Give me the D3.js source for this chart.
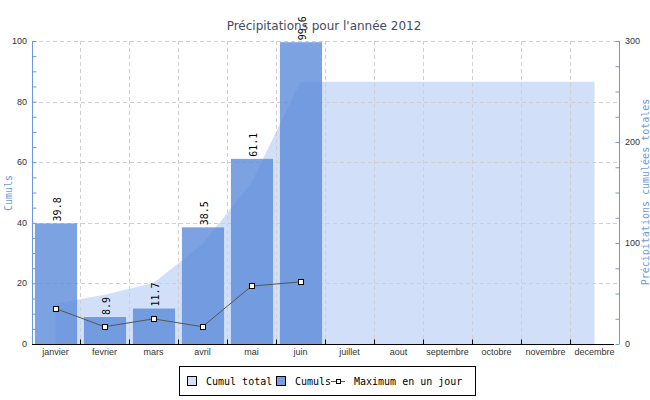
<!DOCTYPE html>
<html><head><meta charset="utf-8">
<script src="https://cdn.jsdelivr.net/npm/d3@7"></script>
<style>body{margin:0;background:#fff}svg{display:block}</style>
</head><body>
<svg id="c" width="650" height="400"></svg>
<script>
const months = ["janvier","fevrier","mars","avril","mai","juin","juillet","aout","septembre","octobre","novembre","decembre"];
const cumuls = [39.8, 8.9, 11.7, 38.5, 61.1, 99.6];
const cumulTotal = [39.8, 48.7, 60.4, 98.9, 160.0, 259.6, 259.6, 259.6, 259.6, 259.6, 259.6, 259.6];
const maxJour = [11.7, 5.7, 8.3, 5.7, 19.1, 20.5];
const leftTicks = [0, 20, 40, 60, 80, 100];
const rightTicks = [0, 100, 200, 300];
const title = "Précipitations pour l'année 2012";
const legendLabels = ["Cumul total", "Cumuls", "Maximum en un jour"];

const svg = d3.select("#c");
const L = 32, R = 619, T = 41, B = 344;
const x = d3.scaleBand().domain(months).range([31, 619]).padding(0);
const yL = d3.scaleLinear().domain([0, 100]).range([B, T]);
const yR = d3.scaleLinear().domain([0, 300]).range([B, T]);
const bw = x.bandwidth();
const cx = m => x(m) + bw / 2;
const mono = "'DejaVu Sans Mono', monospace";
const sans = "'Liberation Sans', Arial, sans-serif";
const blue = "#6f98dc";

// area
const area = d3.area().x((d, i) => cx(months[i])).y0(B).y1(d => yR(d));
svg.append("path").datum(cumulTotal).attr("d", area).attr("fill", "#d2dff8");

// grid
const g = svg.append("g").attr("stroke", "#cfcfcf").attr("stroke-dasharray", "4,3").attr("stroke-width", 1);
leftTicks.filter(v => v > 0).forEach(v => {
  g.append("line").attr("x1", L).attr("x2", R).attr("y1", Math.round(yL(v)) + 0.5).attr("y2", Math.round(yL(v)) + 0.5);
});
months.forEach((m, i) => {
  if (i === 0) return;
  const xx = Math.round(x(m)) + 0.5;
  g.append("line").attr("x1", xx).attr("x2", xx).attr("y1", T).attr("y2", B);
});

// bars
svg.append("g").selectAll("rect").data(cumuls).join("rect")
  .attr("x", (d, i) => x(months[i]) + bw * 0.08)
  .attr("width", bw * 0.86)
  .attr("y", d => yL(d))
  .attr("height", d => B - yL(d))
  .attr("fill", "#5b8bd9").attr("fill-opacity", 0.8);

// bar labels
svg.append("g").selectAll("text").data(cumuls).join("text")
  .attr("transform", (d, i) => `translate(${cx(months[i]) + 5},${yL(d) - 2}) rotate(-90)`)
  .attr("font-family", mono).attr("font-size", 10).attr("fill", "#000")
  .text(d => d.toFixed(1));

// line
const line = d3.line().x((d, i) => cx(months[i])).y(d => yL(d));
svg.append("path").datum(maxJour).attr("d", line).attr("fill", "none").attr("stroke", "#555").attr("stroke-width", 1);
svg.append("g").selectAll("rect").data(maxJour).join("rect")
  .attr("x", (d, i) => Math.round(cx(months[i])) - 2.5).attr("y", d => Math.round(yL(d)) - 2.5)
  .attr("width", 5).attr("height", 5).attr("fill", "#fff").attr("stroke", "#000").attr("stroke-width", 1);

// left axis
const axL = svg.append("g").attr("transform", `translate(${L + 0.5},0)`);
axL.call(d3.axisRight(yL).tickValues(d3.range(0, 101, 5)).tickSize(4).tickFormat(""));
axL.select(".domain").attr("d", `M0,${T}V${B + 1}`).attr("stroke", blue);
axL.selectAll(".tick line").attr("stroke", blue);
svg.append("g").selectAll("text").data(leftTicks).join("text")
  .attr("x", 27).attr("y", d => yL(d) + 3).attr("text-anchor", "end")
  .attr("font-family", sans).attr("font-size", 9).attr("fill", "#333").text(d => d);

// right axis
const axR = svg.append("g").attr("transform", `translate(${R + 0.5},0)`);
axR.call(d3.axisLeft(yR).tickValues(d3.range(0, 301, 25)).tickSize(4).tickFormat(""));
axR.select(".domain").attr("d", `M0,${T}V${B}`).attr("stroke", blue);
axR.selectAll(".tick line").attr("stroke", blue);
svg.append("g").selectAll("text").data(rightTicks).join("text")
  .attr("x", 625).attr("y", d => yR(d) + 3).attr("text-anchor", "start")
  .attr("font-family", sans).attr("font-size", 9).attr("fill", "#333").text(d => d);

// x axis
const axX = svg.append("g").attr("transform", `translate(0,${B + 0.5})`);
axX.append("line").attr("x1", L).attr("x2", 614).attr("stroke", "#000");
axX.selectAll("line.t").data(months.slice(1)).join("line").attr("class", "t")
  .attr("x1", m => Math.round(x(m)) + 0.5).attr("x2", m => Math.round(x(m)) + 0.5)
  .attr("y1", -5).attr("y2", 0).attr("stroke", "#000");
svg.append("g").selectAll("text").data(months).join("text")
  .attr("x", m => cx(m)).attr("y", 355).attr("text-anchor", "middle")
  .attr("font-family", sans).attr("font-size", 9).attr("fill", "#333").text(m => m);

// axis titles
svg.append("text").attr("transform", "translate(12,193) rotate(-90)").attr("text-anchor", "middle")
  .attr("font-family", mono).attr("font-size", 10).attr("fill", blue).text("Cumuls");
svg.append("text").attr("transform", "translate(649,192) rotate(-90)").attr("text-anchor", "middle")
  .attr("font-family", mono).attr("font-size", 10).attr("fill", blue).text("Précipitations cumulées totales");

// title
svg.append("text").attr("x", 324).attr("y", 30).attr("text-anchor", "middle")
  .attr("font-family", "'DejaVu Sans', sans-serif").attr("font-size", 12).attr("fill", "#434a63").text(title);

// legend
const lg = svg.append("g");
lg.append("rect").attr("x", 179.5).attr("y", 366.5).attr("width", 296).attr("height", 29).attr("fill", "#fff").attr("stroke", "#000");
lg.append("rect").attr("x", 187.5).attr("y", 376.5).attr("width", 9).attr("height", 9).attr("fill", "#d2dff8").attr("stroke", "#000");
lg.append("rect").attr("x", 276.5).attr("y", 376.5).attr("width", 9).attr("height", 9).attr("fill", "#779fe0").attr("stroke", "#000");
lg.append("line").attr("x1", 331).attr("x2", 345).attr("y1", 381.5).attr("y2", 381.5).attr("stroke", "#555");
lg.append("rect").attr("x", 336.5).attr("y", 379.5).attr("width", 4).attr("height", 4).attr("fill", "#fff").attr("stroke", "#000");
const lx = [206, 295, 354];
lg.selectAll("text").data(legendLabels).join("text")
  .attr("x", (d, i) => lx[i]).attr("y", 385)
  .attr("font-family", mono).attr("font-size", 10).attr("fill", "#000").text(d => d);
</script>
</body></html>
